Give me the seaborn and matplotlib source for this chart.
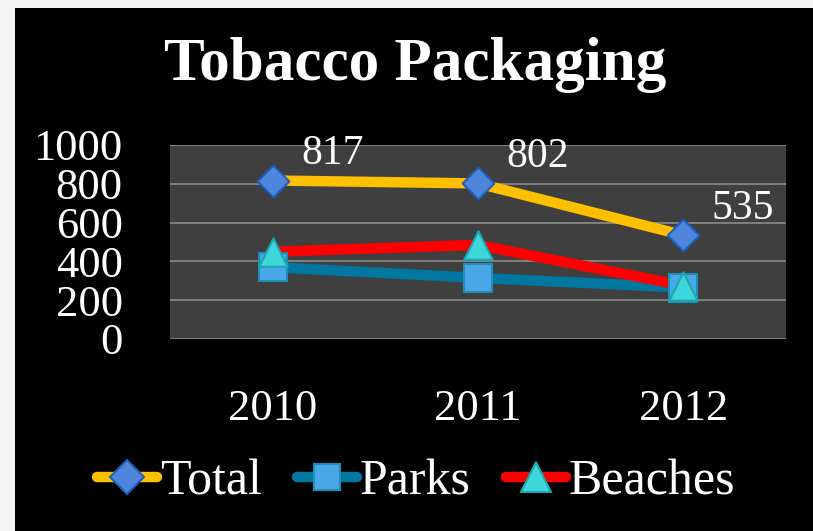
import matplotlib
matplotlib.use("Agg")
import matplotlib.pyplot as plt
from matplotlib.lines import Line2D
from matplotlib.patches import Rectangle
import seaborn as sns
import pandas as pd

# Chart data
years = ["2010", "2011", "2012"]
series = ["Total", "Parks", "Beaches"]
total = [817, 802, 535]
parks = [370, 315, 265]
beaches = [450, 485, 275]
y_ticks = [0, 200, 400, 600, 800, 1000]

df = pd.DataFrame({
    "Year": years * 3,
    "Series": [s for s in series for _ in years],
    "Count": total + parks + beaches,
})

line_colors = {"Total": "#FFC000", "Parks": "#0077A0", "Beaches": "#FF0000"}
marker_faces = {"Total": "#4F86DC", "Parks": "#4AA8E8", "Beaches": "#3ED6DA"}
marker_edges = {"Total": "#1E5FC0", "Parks": "#1E8FB8", "Beaches": "#1AA8B0"}
marker_shapes = {"Total": "D", "Parks": "s", "Beaches": "^"}
marker_sizes = {"Total": 260, "Parks": 380, "Beaches": 420}
legend_msizes = {"Total": 17, "Parks": 19, "Beaches": 21}

sns.set_theme(style="dark")
plt.rcParams["font.family"] = ["Liberation Serif", "DejaVu Serif"]

fig = plt.figure(figsize=(8.13, 5.31), dpi=100, facecolor="#F4F4F4")
fig.patches.append(Rectangle((15 / 813, 0), 1, 1 - 8 / 531, transform=fig.transFigure,
                             facecolor="black", edgecolor="none", zorder=-10))

ax = fig.add_axes([170 / 813, 1 - 339 / 531, 616 / 813, 194 / 531])
ax.set_zorder(2)
ax.set_facecolor("#3F3F3F")

# Lines (Parks under Beaches under Total)
for i, name in enumerate(["Parks", "Beaches", "Total"]):
    sub = df[df["Series"] == name]
    sns.lineplot(data=sub, x="Year", y="Count", color=line_colors[name],
                 linewidth=7.5, sort=False, ax=ax, legend=False, zorder=3 + i)

# Markers on top
for i, name in enumerate(["Parks", "Beaches", "Total"]):
    sub = df[df["Series"] == name]
    sns.scatterplot(data=sub, x="Year", y="Count", marker=marker_shapes[name],
                    color=marker_faces[name], edgecolor=marker_edges[name],
                    linewidth=1.5, s=marker_sizes[name], ax=ax, legend=False,
                    zorder=10 + i)

# Value labels for the total series
for x, v in zip(range(len(years)), total):
    ax.annotate(str(v), (x, v), xytext=(43, 19), textcoords="offset points",
                ha="center", va="center", color="white", fontsize=30, zorder=20,
                annotation_clip=False)

ax.set_xlim(-0.5, 2.5)
ax.set_ylim(0, 1000)
ax.set_yticks(y_ticks)
ax.set_yticklabels([str(t) for t in y_ticks])
ax.grid(axis="y", color="#858585", linewidth=1.3)
ax.grid(axis="x", visible=False)
for sp in ax.spines.values():
    sp.set_visible(False)
ax.tick_params(axis="y", colors="white", labelsize=32, length=0, pad=34)
ax.tick_params(axis="x", colors="white", labelsize=32, length=0, pad=36)
ax.set_xlabel("")
ax.set_ylabel("")

fig.text(415 / 813, 1 - 65 / 531, "Tobacco Packaging", ha="center", va="center",
         color="white", fontsize=44, fontweight="bold")

handles = [Line2D([0], [0], color=line_colors[n], linewidth=7.5,
                  marker=marker_shapes[n], markersize=legend_msizes[n],
                  markerfacecolor=marker_faces[n], markeredgecolor=marker_edges[n],
                  markeredgewidth=1.5, solid_capstyle="round")
           for n in series]
leg = fig.legend(handles, series, loc="center", bbox_to_anchor=(416 / 813, 1 - 482 / 531),
                 ncol=3, frameon=False, fontsize=36, handlelength=1.2,
                 handletextpad=0.06, columnspacing=0.7)
for t in leg.get_texts():
    t.set_color("white")

fig.savefig("out.png", dpi=100, facecolor=fig.get_facecolor())
